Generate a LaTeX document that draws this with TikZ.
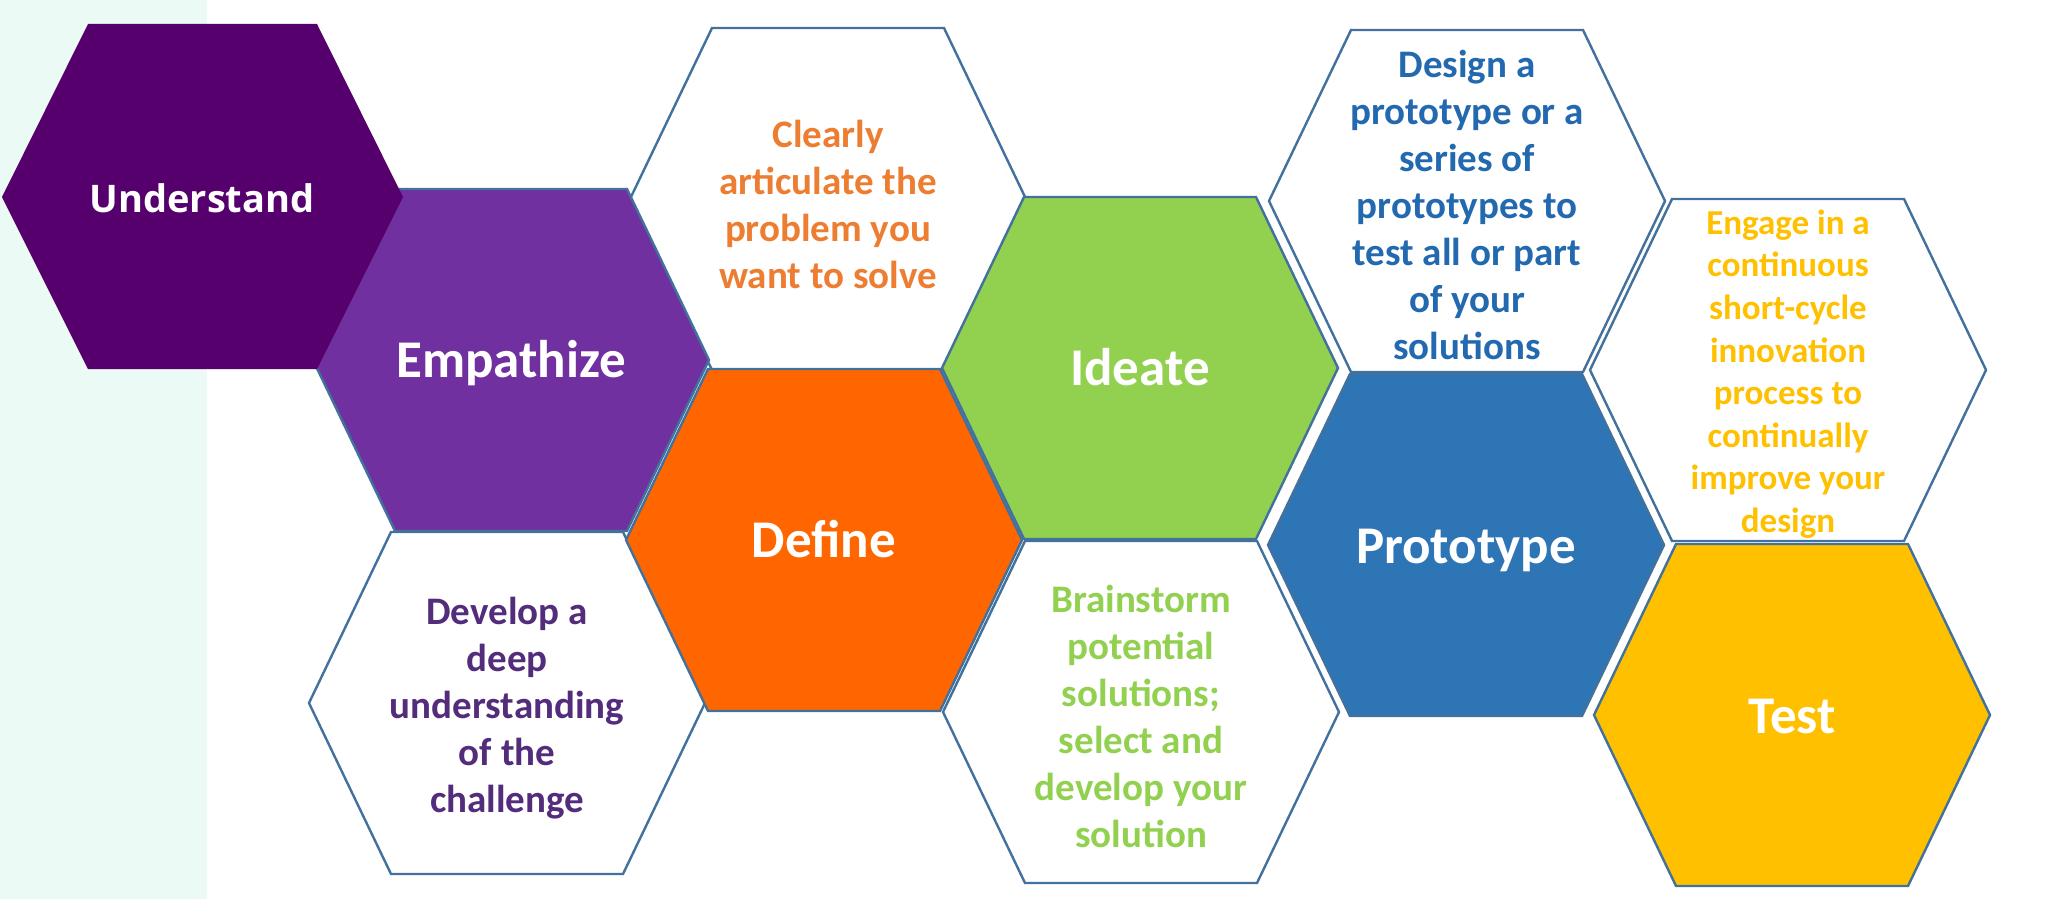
\documentclass[tikz,border=0pt]{standalone}
\usepackage{fontspec}
\setmainfont{Carlito}
\newfontfamily\undfont{Open Sans}
\definecolor{mint}{HTML}{EBFAF4}
\definecolor{undc}{HTML}{56006E}
\definecolor{empc}{HTML}{7030A0}
\definecolor{defc}{HTML}{FF6600}
\definecolor{idec}{HTML}{92D050}
\definecolor{proc}{HTML}{2E75B6}
\definecolor{tstc}{HTML}{FFC000}
\definecolor{outl}{HTML}{41719C}
\definecolor{devtxt}{HTML}{532D7C}
\definecolor{clrtxt}{HTML}{ED7D31}
\definecolor{destxt}{HTML}{2369B0}
\begin{document}
\begin{tikzpicture}[x=0.5pt, y=-0.5pt,
  hex/.pic={\path[pic actions] (-198,0) -- (-116,-171) -- (116,-171) -- (198,0) -- (116,171) -- (-116,171) -- cycle;},
  hexline/.style={draw=outl, line width=1.2pt, line join=miter},
  bigtxt/.style={font=\bfseries\fontsize{26.5}{30}\selectfont, text=white, anchor=base, inner sep=0pt},
  smalltxt/.style={font=\bfseries\fontsize{19.5}{23.5}\selectfont, align=center, inner sep=0pt},
  tinytxt/.style={font=\bfseries\fontsize{17.5}{21.3}\selectfont, align=center, inner sep=0pt}]
\useasboundingbox (0,0) rectangle (2061,899);
\fill[white] (0,0) rectangle (2061,899);
\fill[mint] (0,0) rectangle (207,899);
% white hexagons
\pic[hexline, fill=white] at (507,703) {hex};
\pic[hexline, fill=white] at (828,199) {hex};
\pic[hexline, fill=white] at (1141,712) {hex};
\pic[hexline, fill=white] at (1467,201) {hex};
\pic[hexline, fill=white] at (1788,370) {hex};
% coloured hexagons
\pic[hexline, fill=empc] at (511,360) {hex};
\pic[hexline, fill=defc] at (824,540) {hex};
\pic[hexline, fill=idec] at (1140,368) {hex};
\pic[hexline, fill=proc] at (1466,545) {hex};
\pic[hexline, fill=tstc] at (1792,715) {hex};
% Understand hexagon
\fill[undc] (2,197) -- (88,24) -- (317,24) -- (403,197) -- (317,369) -- (88,369) -- cycle;
% texts
\node[font=\undfont\bfseries\fontsize{19}{22}\selectfont, text=white, anchor=base, inner sep=0pt] (und) at (202,213) {Understand};
\node[bigtxt] (emp) at (511,377) {Empathize};
\node[bigtxt] (def) at (824,557) {Define};
\node[bigtxt] (ide) at (1140,385) {Ideate};
\node[bigtxt] (pro) at (1466,563) {Prototype};
\node[bigtxt] (tst) at (1792,733) {Test};
\node[smalltxt, text=devtxt] (dev) at (507,708) {Develop a\\deep\\understanding\\of the\\challenge};
\node[smalltxt, text=clrtxt] (clr) at (828,204) {Clearly\\articulate the\\problem you\\want to solve};
\node[smalltxt, text=idec] (brn) at (1141,716) {Brainstorm\\potential\\solutions;\\select and\\develop your\\solution};
\node[smalltxt, text=destxt] (des) at (1467,205) {Design a\\prototype or a\\series of\\prototypes to\\test all or part\\of your\\solutions};
\node[tinytxt, text=tstc] (eng) at (1788,374) {Engage in a\\continuous\\short-cycle\\innovation\\process to\\continually\\improve your\\design};
\end{tikzpicture}
\end{document}
